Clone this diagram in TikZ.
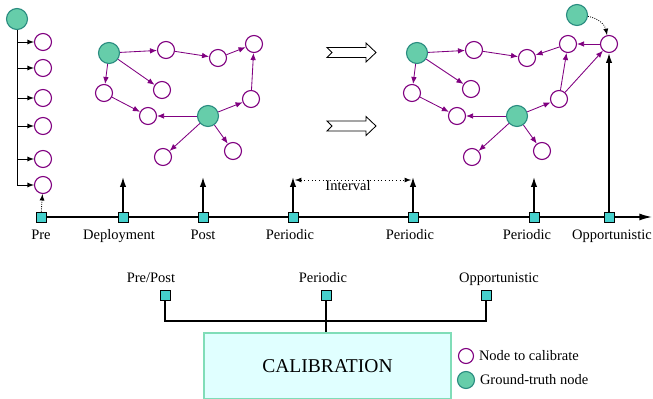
\documentclass[tikz,border=0pt]{standalone}
\usepackage{fontspec}
\setmainfont{Liberation Serif}
\usepackage{tikz}
\usetikzlibrary{arrows.meta}
\tikzset{>=latex}
\definecolor{violetline}{HTML}{800080}
\definecolor{truthfill}{HTML}{66CDAA}
\definecolor{truthline}{HTML}{2A8C80}
\definecolor{tickfill}{HTML}{45D0CC}
\definecolor{calibfill}{HTML}{E0FFFF}
\definecolor{calibline}{HTML}{80DDB8}
\tikzset{
	tonode/.style={circle, draw=violetline, line width=0.8pt, fill=white, inner sep=0pt, minimum size=0.425cm},
	truth/.style={circle, draw=truthline, line width=0.8pt, fill=truthfill, inner sep=0pt, minimum size=0.525cm},
	tick/.style={rectangle, draw=black, line width=0.6pt, fill=tickfill, inner sep=0pt, minimum size=0.25cm},
	link/.style={-{Latex[length=5pt, width=4pt]}, violetline, line width=0.6pt},
	lbl/.style={anchor=base, font=\fontsize{10.3}{12}\selectfont}
}
\newcommand{\hollowarrow}[2]{
	\draw[line width=0.6pt](#1, #2)++(-24, -5)--++(39, 0)--++(0, -4.5)--++(10, 9.5)--++(-10, 9.5)--++(0, -4.5)--++(-39, 0)--++(5, -5)--cycle
}

\begin{document}
\begin{tikzpicture}[x=0.025cm, y=-0.025cm]
    \useasboundingbox (0, 0) rectangle (653, 399);
    % before deployment
    \node[truth] (g0) at (17, 19) {};
    \foreach \y [count=\i] in {42, 68, 98, 126, 159, 185}{
        \node[tonode] (p\i) at (43, \y) {};
        \draw[->, line width=0.6pt] (g0) |- (p\i);
    }
    % network after deployment
    \foreach \n/\x/\y in {a2/166/50, a3/218/58, a4/254/44, a5/104/93, a6/162/90, a7/148/116, a9/251/99, a10/163/157, a11/233/151}
        \node[tonode] (\n) at (\x, \y) {};
    \node[truth] (a1) at (109, 53) {};
    \node[truth] (a8) at (208, 116) {};
    \foreach \u/\v in {a1/a2, a2/a3, a3/a4, a1/a5, a1/a6, a5/a7, a8/a7, a8/a9, a9/a4, a8/a10, a8/a11}
        \draw[link] (\u) -- (\v);
    \hollowarrow{351}{52.5};
    \hollowarrow{351}{126};
    % network with a mobile reference
    \foreach \n/\x/\y in {c2/474/50, c3/527/58, c4/568/44, c5/412/93, c6/471/89, c7/457/116, c9/559/99, c10/472/157, c11/542/151, c12/609/44}
        \node[tonode] (\n) at (\x, \y) {};
    \node[truth] (c1) at (417, 53) {};
    \node[truth] (c8) at (517, 116) {};
    \node[truth] (g3) at (577, 15) {};
    \foreach \u/\v in {c1/c2, c2/c3, c4/c3, c12/c4, c1/c5, c1/c6, c5/c7, c8/c7, c8/c9, c9/c4, c9/c12, c8/c10, c8/c11}
        \draw[link] (\u) -- (\v);
    \draw[densely dotted, ->, line width=0.6pt] (g3) to[bend left=35] (c12);
    % time line
    \foreach \x/\lx/\lab [count=\i] in {41/41/Pre, 123/119/Deployment, 203/203/Post, 293/290/Periodic, 413/410/Periodic, 534/527/Periodic, 609/612/Opportunistic}{
        \node[tick] (t\i) at (\x, 217) {};
        \node[lbl] at (\lx, 240) {\lab};
    }
    \coordinate (tend) at (652, 217);
    \draw[line width=1pt, -{Latex[length=9pt, width=5pt]}] (t1) -- (t2) -- (t3) -- (t4) -- (t5) -- (t6) -- (t7) -- (tend);
    \foreach \i in {2, ..., 6}
        \draw[line width=1pt, -{Latex[length=7pt, width=4.5pt]}] (t\i) -- ++(0, -40);
    \draw[line width=1pt, -{Latex[length=7pt, width=4.5pt]}] (t7) -- (c12);
    \draw[densely dotted, ->, line width=0.6pt] (t1) -- (p6);
    \coordinate (ia) at (295, 180);
    \coordinate (ib) at (411, 180);
    \draw[dotted, <->, line width=0.6pt] (ia) -- (ib);
    \node[lbl] at (348, 191) {Interval};
    % calibration types
    \node[rectangle, draw=calibline, line width=1pt, fill=calibfill, minimum width=6.175cm, minimum height=1.65cm, font=\fontsize{13.9}{16}\selectfont] (calib) at (327.5, 366) {CALIBRATION};
    \foreach \x/\lx/\lab [count=\i] in {165/151/{Pre/Post}, 326/323/Periodic, 486/499/Opportunistic}{
        \node[tick] (s\i) at (\x, 295) {};
        \node[lbl] at (\lx, 283) {\lab};
    }
    \coordinate (jn) at (326, 321);
    \draw[line width=0.8pt] (s1) |- (jn) -| (s3);
    \draw[line width=0.8pt] (s2) -- (s2 |- calib.north);
    % legend
    \node[tonode, minimum size=0.375cm] (lg1) at (466, 356) {};
    \node[lbl, anchor=west] at (lg1.east) {Node to calibrate};
    \node[truth, minimum size=0.425cm] (lg2) at (466, 380) {};
    \node[lbl, anchor=west] at (lg2.east) {Ground-truth node};
\end{tikzpicture}
\end{document}
